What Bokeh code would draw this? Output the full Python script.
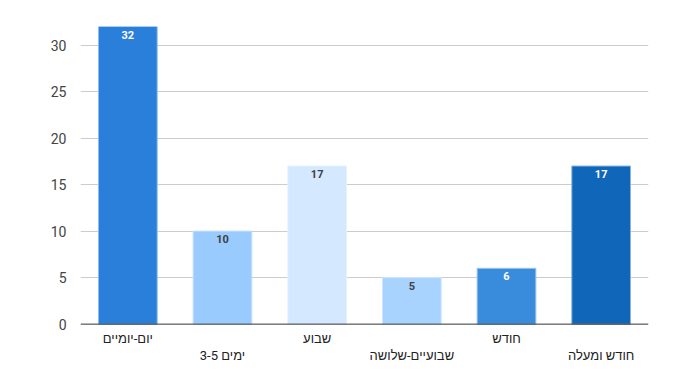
from bokeh.plotting import figure
from bokeh.models import ColumnDataSource, FactorRange, Range1d, FixedTicker, Span
from bokeh.core.properties import value
from bokeh.embed import file_html
from bokeh.resources import INLINE

categories = ["יום-יומיים", "ימים 3-5", "שבוע", "שבועיים-שלושה", "חודש", "חודש ומעלה"]
values = [32, 10, 17, 5, 6, 17]
bar_colors = ["#2a7fdb", "#99cbff", "#d4e8ff", "#a8d3ff", "#398bdc", "#1066b8"]
border_colors = ["#8fbdf0", "#c4e0ff", "#e6f2ff", "#cfe6ff", "#99c4ef", "#8ab4e0"]
label_colors = ["#ffffff", "#404040", "#404040", "#404040", "#ffffff", "#ffffff"]
y_ticks = [0, 5, 10, 15, 20, 25, 30]

src = ColumnDataSource(dict(cat=categories, val=values, fill=bar_colors,
                            edge=border_colors, lab=[str(v) for v in values],
                            lc=label_colors))

# staggered category labels: alternate rows below the axis (pixel offsets)
cat_src = ColumnDataSource(dict(cat=categories, y=[0] * len(categories),
                                off=[14 if i % 2 == 0 else 31 for i in range(len(categories))]))

p = figure(width=689, height=377, x_range=FactorRange(*categories),
           y_range=Range1d(-5.2, 32), output_backend="svg", toolbar_location=None,
           x_axis_location=None,
           min_border_left=80, min_border_right=41, min_border_top=26,
           min_border_bottom=5)
p.outline_line_color = None

font = "Roboto, Liberation Sans"

p.yaxis.ticker = FixedTicker(ticks=y_ticks)
p.yaxis.axis_line_color = None
p.yaxis.major_tick_line_color = None
p.yaxis.minor_tick_line_color = None
p.yaxis.major_label_standoff = 8
p.yaxis.major_label_text_font = font
p.yaxis.major_label_text_font_size = "14px"
p.yaxis.major_label_text_color = "#444444"

p.ygrid.grid_line_color = "#cccccc"
p.ygrid.ticker = FixedTicker(ticks=y_ticks[1:])
p.xgrid.grid_line_color = None

p.vbar(x="cat", top="val", width=0.62, source=src, fill_color="fill",
       line_color="edge", line_width=1)
p.text(x="cat", y="val", text="lab", source=src, text_color="lc",
       text_align="center", text_baseline="top", y_offset=4,
       text_font=value("Roboto"), text_font_size="11px", text_font_style="bold")

p.add_layout(Span(location=0, dimension="width", line_color="#333333", line_width=1))

p.text(x="cat", y="y", text="cat", source=cat_src, y_offset="off",
       text_align="center", text_baseline="middle",
       text_font=value(font), text_font_size="13px", text_color="#222222")

open("out.html", "w").write(file_html(p, INLINE))
